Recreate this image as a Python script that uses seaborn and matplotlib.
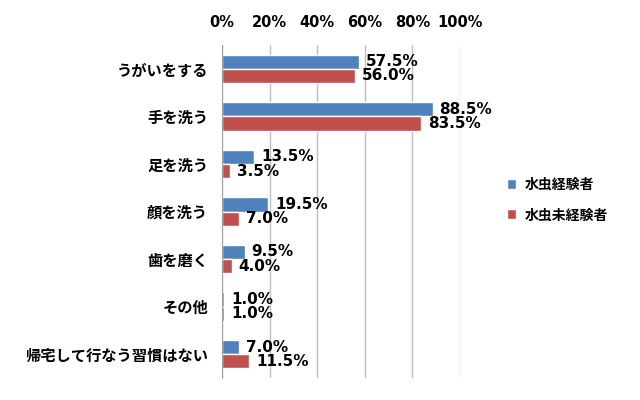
import matplotlib
matplotlib.use("Agg")
import matplotlib.pyplot as plt
import seaborn as sns
import pandas as pd
import numpy as np
from matplotlib.ticker import FixedLocator, PercentFormatter

categories = ["うがいをする", "手を洗う", "足を洗う", "顔を洗う", "歯を磨く", "その他", "帰宅して行なう習慣はない"]
series = ["水虫経験者", "水虫未経験者"]
exp_vals = [57.5, 88.5, 13.5, 19.5, 9.5, 1.0, 7.0]
nonexp_vals = [56.0, 83.5, 3.5, 7.0, 4.0, 1.0, 11.5]
colors = ["#4F81BD", "#C0504D"]

df = pd.DataFrame({
    "cat": categories * 2,
    "grp": [series[0]] * len(categories) + [series[1]] * len(categories),
    "val": exp_vals + nonexp_vals,
})

sns.set_style("white")
plt.rcParams['font.family'] = ['Noto Sans CJK JP', 'DejaVu Sans']
plt.rcParams['text.color'] = 'black'
plt.rcParams['xtick.labelcolor'] = 'black'
plt.rcParams['ytick.labelcolor'] = 'black'
tickfont = dict(family="DejaVu Sans", weight="bold", size=10.5)
labfont = dict(family="DejaVu Sans", weight="bold", size=11)

fig = plt.figure(figsize=(6.4, 4.0), dpi=100)
ax = fig.add_axes([222/640, 1-378/400, (460-222)/640, (378-45)/400])

sns.barplot(data=df, y="cat", x="val", hue="grp", order=categories, hue_order=series,
            palette=colors, orient="h", width=0.6, ax=ax, saturation=1, legend=True)

ax.set_xlim(0, 100)
ax.set_ylim(len(categories) - 0.5, -0.5)
ax.xaxis.tick_top()
ax.set_xticks(np.arange(0, 101, 20))
ax.xaxis.set_major_formatter(PercentFormatter(decimals=0))
ax.tick_params(axis="x", length=0, pad=11, labelcolor="black")
for lab in ax.get_xticklabels():
    lab.set_fontproperties(tickfont)
ax.grid(axis="x", color="#BFBFBF", linewidth=1)
ax.set_axisbelow(True)
ax.set_xlabel("")
ax.set_ylabel("")

ax.yaxis.set_major_locator(FixedLocator(range(len(categories))))
ax.set_yticklabels(categories, fontsize=11, fontweight="bold", color="black")
ax.tick_params(axis="y", which="major", length=0, pad=10)
ax.yaxis.set_minor_locator(FixedLocator(np.arange(-0.5, len(categories), 1)))
ax.tick_params(axis="y", which="minor", length=5, color="#A0A0A0", width=1)

for s in ["top", "right", "bottom"]:
    ax.spines[s].set_visible(False)
ax.spines["left"].set_color("#A0A0A0")

for cont in ax.containers:
    texts = ax.bar_label(cont, labels=[f"{v:.1f}%" for v in cont.datavalues], padding=5,
                         color="black")
    for t in texts:
        t.set_fontproperties(labfont)

leg = ax.legend(loc="center left", bbox_to_anchor=((494-222)/(460-222), 0.535),
                frameon=False, handlelength=0.7, handleheight=0.7, labelspacing=1.2,
                handletextpad=0.6, prop={"size": 10, "weight": "bold"})
for t in leg.get_texts():
    t.set_color("black")

fig.savefig("out.png", dpi=100)
